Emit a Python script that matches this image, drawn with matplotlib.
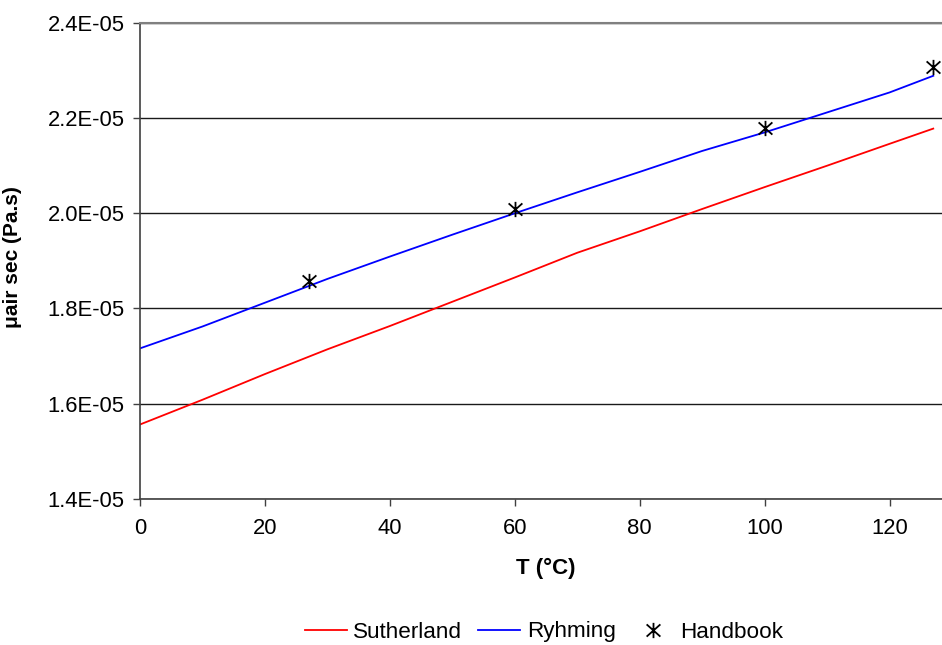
import numpy as np
import matplotlib
matplotlib.use("Agg")
import matplotlib.pyplot as plt
from matplotlib.path import Path

plt.rcParams['font.family'] = ['Liberation Sans', 'DejaVu Sans']

# temperatures (deg C) and viscosities (Pa.s)
T_curve = [0, 10, 20, 30, 40, 50, 60, 70, 80, 90, 100, 110, 120, 127]
mu_sutherland = [1.556e-05, 1.608e-05, 1.662e-05, 1.714e-05, 1.763e-05, 1.814e-05, 1.865e-05,
                 1.917e-05, 1.962e-05, 2.009e-05, 2.055e-05, 2.100e-05, 2.146e-05, 2.178e-05]
mu_ryhming = [1.716e-05, 1.762e-05, 1.812e-05, 1.862e-05, 1.909e-05, 1.955e-05, 2.000e-05,
              2.044e-05, 2.087e-05, 2.131e-05, 2.170e-05, 2.212e-05, 2.254e-05, 2.289e-05]

T_handbook = [27, 60, 100, 127]
mu_handbook = [1.857e-05, 2.008e-05, 2.180e-05, 2.308e-05]

yticks = [1.4e-05, 1.6e-05, 1.8e-05, 2.0e-05, 2.2e-05, 2.4e-05]
ytick_labels = ['1.4E-05', '1.6E-05', '1.8E-05', '2.0E-05', '2.2E-05', '2.4E-05']
xticks = [0, 20, 40, 60, 80, 100, 120]

# excel style star marker: X plus a vertical bar
star = Path([(0, -1), (0, 1), (-0.9, -0.8), (0.9, 0.8), (-0.9, 0.8), (0.9, -0.8)],
            [Path.MOVETO, Path.LINETO, Path.MOVETO, Path.LINETO, Path.MOVETO, Path.LINETO])

fig = plt.figure(figsize=(9.42, 6.45), dpi=100)
ax = fig.add_axes([140 / 942, 1 - 498.7 / 645, 802 / 942, 475.7 / 645])

ax.plot(T_curve, mu_sutherland, color='#ff0000', lw=1.3, label='Sutherland')
ax.plot(T_curve, mu_ryhming, color='#0000ff', lw=1.3, label='Ryhming')
ax.plot(T_handbook, mu_handbook, ls='none', marker=star, ms=11, mew=1.3,
        color='black', label='Handbook')

ax.set_xlim(0, 128.4)
ax.set_ylim(1.4e-05, 2.4e-05)
ax.set_xticks(xticks)
ax.set_yticks(yticks)
ax.set_yticklabels(ytick_labels)
ax.tick_params(axis='both', labelsize=15.8, direction='out', length=5, width=1, color='#404040')
ax.tick_params(axis='y', pad=6)
ax.tick_params(axis='x', pad=9)

ax.grid(axis='y', color='#1a1a1a', lw=1)
ax.set_axisbelow(True)
for s in ['left', 'bottom']:
    ax.spines[s].set_color('#404040')
    ax.spines[s].set_linewidth(1.2)
ax.spines['top'].set_color('#808080')
ax.spines['top'].set_linewidth(1.5)
ax.spines['right'].set_visible(False)

ax.set_xlabel('T (°C)', fontsize=16, fontweight='bold')
ax.xaxis.set_label_coords(0.506, -0.125)
ax.set_ylabel('μair sec (Pa.s)', fontsize=15, fontweight='bold')
ax.yaxis.set_label_coords(-0.147, 0.508)

fig.legend(loc='center', bbox_to_anchor=(544 / 942, 1 - 632 / 645), ncol=3, frameon=False,
           fontsize=16.2, handlelength=1.87, handletextpad=0.3, columnspacing=0.7)

fig.savefig('out.png', dpi=100)
